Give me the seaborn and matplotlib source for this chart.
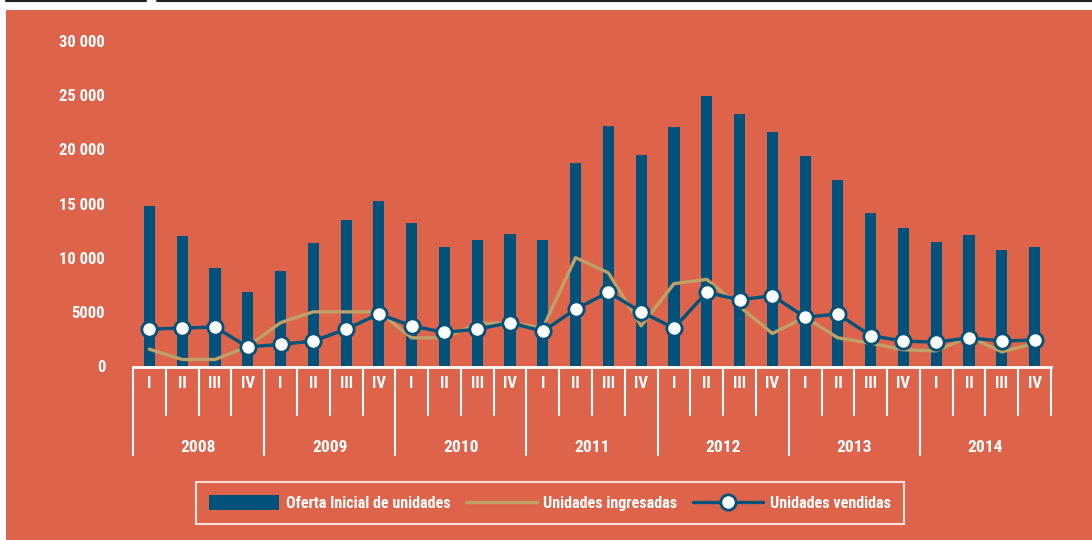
import numpy as np
import pandas as pd
import matplotlib
matplotlib.use("Agg")
import matplotlib.pyplot as plt
import seaborn as sns
from matplotlib.lines import Line2D
from matplotlib.patches import Rectangle
import matplotlib.transforms as mtransforms

# ---------------- data ----------------
years = ["2008", "2009", "2010", "2011", "2012", "2013", "2014"]
quarters = ["I", "II", "III", "IV"]
oferta = [14800, 12000, 9050, 6800,
          8800, 11400, 13500, 15200,
          13200, 11000, 11600, 12200,
          11600, 18700, 22200, 19500,
          22100, 24900, 23300, 21600,
          19400, 17200, 14100, 12700,
          11450, 12100, 10700, 11000]
ingresadas = [1550, 600, 600, 1800,
              4000, 5000, 5000, 5000,
              2600, 2600, 3900, 4000,
              3500, 10000, 8600, 3700,
              7600, 8000, 5500, 3000,
              4500, 2600, 2100, 1500,
              1400, 2700, 1300, 2100]
vendidas = [3400, 3500, 3600, 1750,
            2000, 2300, 3400, 4800,
            3700, 3100, 3400, 4000,
            3200, 5250, 6800, 5000,
            3500, 6800, 6100, 6500,
            4500, 4800, 2800, 2300,
            2200, 2600, 2300, 2400]
yticks = [0, 5000, 10000, 15000, 20000, 25000, 30000]
ytick_labels = ["0", "5000", "10 000", "15 000", "20 000", "25 000", "30 000"]
legend_labels = ["Oferta Inicial de unidades", "Unidades ingresadas", "Unidades vendidas"]

periodo = [f"{y} {q}" for y in years for q in quarters]
df = pd.DataFrame({"periodo": periodo, "oferta": oferta,
                   "ingresadas": ingresadas, "vendidas": vendidas})

# ---------------- style ----------------
BG = "#DD644A"
BAR = "#00527A"
TAN = "#BFA068"
WHITE = "white"

sns.set_theme(style="white")
plt.rcParams["font.family"] = ["Roboto Condensed", "Liberation Sans Narrow", "Roboto", "DejaVu Sans"]
plt.rcParams["font.weight"] = "bold"

W, H = 1092, 540
fig = plt.figure(figsize=(W / 100, H / 100), dpi=100, facecolor="white")

# orange panel and thin black top rules
fig.patches.append(Rectangle((6 / W, 0), 1 - 6 / W, (H - 10) / H,
                             transform=fig.transFigure, facecolor=BG,
                             edgecolor="none", zorder=-10))
fig.lines.append(Line2D([6 / W, 146 / W], [1 - 1 / H, 1 - 1 / H],
                        transform=fig.transFigure, color="#222222", lw=1.5))
fig.lines.append(Line2D([157 / W, 1.0], [1 - 1 / H, 1 - 1 / H],
                        transform=fig.transFigure, color="#222222", lw=1.5))

ax_left, ax_right = 133 / W, 1051 / W
ax_bottom, ax_top = (H - 366) / H, (H - 41) / H
ax = fig.add_axes([ax_left, ax_bottom, ax_right - ax_left, ax_top - ax_bottom])
ax.set_facecolor("none")

sns.barplot(data=df, x="periodo", y="oferta", color=BAR, saturation=1,
            width=0.34, ax=ax, label=legend_labels[0], zorder=2,
            linewidth=0, edgecolor="none")
sns.lineplot(data=df, x="periodo", y="ingresadas", color=TAN, lw=2.4,
             sort=False, ax=ax, label=legend_labels[1], zorder=3)
sns.lineplot(data=df, x="periodo", y="vendidas", color=BAR, lw=2.4,
             sort=False, ax=ax, marker="o", markersize=11,
             markerfacecolor=WHITE, markeredgecolor=BAR, markeredgewidth=2,
             label=legend_labels[2], zorder=4)

n = len(periodo)
ax.set_xlim(-0.5, n - 0.5)
ax.set_ylim(0, 30000)
ax.set_yticks(yticks)
ax.set_yticklabels(ytick_labels, color=WHITE, fontsize=12, fontweight="bold")
ax.tick_params(axis="y", length=0, pad=20)
ax.set_xticks([])
ax.set_xlabel("")
ax.set_ylabel("")
for s in ["top", "right", "left"]:
    ax.spines[s].set_visible(False)
ax.spines["bottom"].set_color(WHITE)
ax.spines["bottom"].set_linewidth(2)
ax.spines["bottom"].set_position(("outward", 1))

# two-level category axis
trans = mtransforms.blended_transform_factory(ax.transData, ax.transAxes)
axh = 325.0
q_bot = -49 / axh
y_bot = -89 / axh
for i in range(n + 1):
    xb = i - 0.5
    bottom = y_bot if (i % 4 == 0 and i < n) else q_bot
    ax.add_line(Line2D([xb, xb], [-2 / axh, bottom], transform=trans,
                       color=WHITE, lw=1.5, clip_on=False))
for i, p in enumerate(periodo):
    q = p.split(" ")[1]
    ax.text(i, -17 / axh, q, transform=trans, ha="center", va="center",
            color=WHITE, fontsize=12, fontweight="bold")
for k, y in enumerate(years):
    xc = 4 * k + 1.5
    ax.text(xc, -82 / axh, y, transform=trans, ha="center", va="center",
            color=WHITE, fontsize=12.5, fontweight="bold")

# legend
handles, labels = ax.get_legend_handles_labels()
if ax.get_legend() is not None:
    ax.get_legend().remove()
order = [labels.index(l) for l in legend_labels]
handles = [handles[i] for i in order]
labels = [labels[i] for i in order]
leg = fig.legend(handles, labels, loc="center", bbox_to_anchor=(550 / W, (H - 503) / H),
                 ncol=3, frameon=True, fontsize=11.5, handlelength=4.4,
                 handleheight=1.1, columnspacing=1.0, handletextpad=0.4,
                 borderpad=0.8, borderaxespad=0, fancybox=False)
leg.get_frame().set_facecolor("none")
leg.get_frame().set_edgecolor(WHITE)
leg.get_frame().set_linewidth(1.5)
for t in leg.get_texts():
    t.set_color(WHITE)
    t.set_fontweight("bold")

fig.savefig("out.png", dpi=100, facecolor=fig.get_facecolor())
